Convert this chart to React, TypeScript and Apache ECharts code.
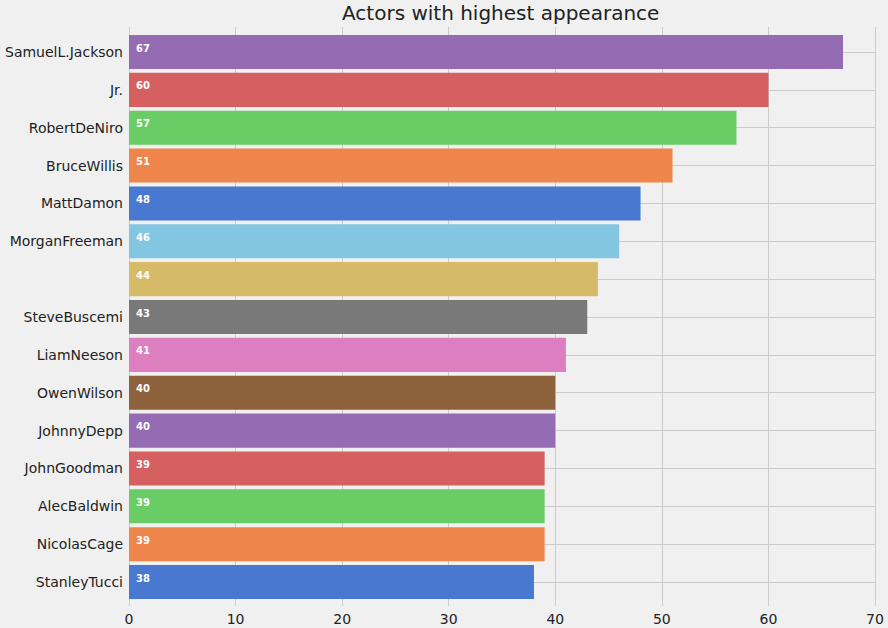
import React, { useEffect, useRef } from "react";
import * as echarts from "echarts";

// Actors ordered from most to fewest appearances (top to bottom)
const actors = [
  "SamuelL.Jackson",
  "Jr.",
  "RobertDeNiro",
  "BruceWillis",
  "MattDamon",
  "MorganFreeman",
  "",
  "SteveBuscemi",
  "LiamNeeson",
  "OwenWilson",
  "JohnnyDepp",
  "JohnGoodman",
  "AlecBaldwin",
  "NicolasCage",
  "StanleyTucci",
];
const appearances = [67, 60, 57, 51, 48, 46, 44, 43, 41, 40, 40, 39, 39, 39, 38];
const barColors = [
  "#956cb4",
  "#d65f5f",
  "#6acc64",
  "#ee854a",
  "#4878d0",
  "#82c6e2",
  "#d5bb67",
  "#797979",
  "#dc7ec0",
  "#8c613c",
  "#956cb4",
  "#d65f5f",
  "#6acc64",
  "#ee854a",
  "#4878d0",
];
const xTicks = { min: 0, max: 70, interval: 10 };

const FONT = "DejaVu Sans";
const GRID_COLOR = "#cbcbcb";
const TEXT_COLOR = "#222222";

export default function App() {
  const ref = useRef<HTMLDivElement>(null);

  useEffect(() => {
    document.body.style.margin = "0";
    const chart = echarts.init(ref.current!, null, { renderer: "svg" });
    const band = 37.86;
    const n = actors.length;
    chart.setOption({
      animation: false,
      backgroundColor: "#f0f0f0",
      textStyle: { fontFamily: FONT },
      title: {
        text: "Actors with highest appearance",
        left: 337,
        top: -2,
        textStyle: { fontFamily: FONT, fontSize: 20, fontWeight: "normal", color: TEXT_COLOR },
      },
      grid: [
        { left: 129, right: 13, top: 52 - band / 2, height: band * n },
        { left: 129, right: 13, top: 27, bottom: 22 },
      ],
      xAxis: [
        {
          gridIndex: 0,
          type: "value",
          ...xTicks,
          axisLabel: { show: false },
          axisLine: { show: false },
          axisTick: { show: false },
          splitLine: { show: false },
        },
        {
          gridIndex: 1,
          type: "value",
          ...xTicks,
          axisLine: { show: false },
          axisTick: { show: false },
          axisLabel: { fontFamily: FONT, fontSize: 14, color: TEXT_COLOR, margin: 6 },
          splitLine: { lineStyle: { color: GRID_COLOR, width: 1 } },
        },
      ],
      yAxis: [
        {
          gridIndex: 0,
          type: "category",
          data: actors,
          inverse: true,
          axisLine: { show: false },
          axisTick: { show: false },
          splitLine: { show: false },
          axisLabel: { fontFamily: FONT, fontSize: 14, color: TEXT_COLOR, margin: 6 },
        },
        {
          gridIndex: 1,
          type: "value",
          show: false,
          splitLine: { show: false },
        },
      ],
      series: [
        {
          type: "scatter",
          xAxisIndex: 0,
          yAxisIndex: 0,
          data: [],
          silent: true,
          markLine: {
            z: 1,
            silent: true,
            symbol: ["none", "none"],
            label: { show: false },
            lineStyle: { color: GRID_COLOR, width: 1, type: "solid" },
            data: actors.map((_, i) => ({ yAxis: i })),
          },
        },
        {
          type: "scatter",
          xAxisIndex: 1,
          yAxisIndex: 1,
          data: [],
          silent: true,
        },
        {
          type: "bar",
          xAxisIndex: 0,
          yAxisIndex: 0,
          z: 2,
          barCategoryGap: "10%",
          data: appearances.map((v, i) => ({ value: v, itemStyle: { color: barColors[i] } })),
          label: {
            show: true,
            position: "insideLeft",
            distance: 7,
            offset: [0, -4],
            color: "#ffffff",
            fontFamily: FONT,
            fontWeight: "bold",
            fontSize: 10,
          },
        },
      ],
    });
    return () => chart.dispose();
  }, []);

  return (
    <div
      ref={ref}
      style={{ position: "fixed", left: 0, top: 0, width: 888, height: 628 }}
    />
  );
}
